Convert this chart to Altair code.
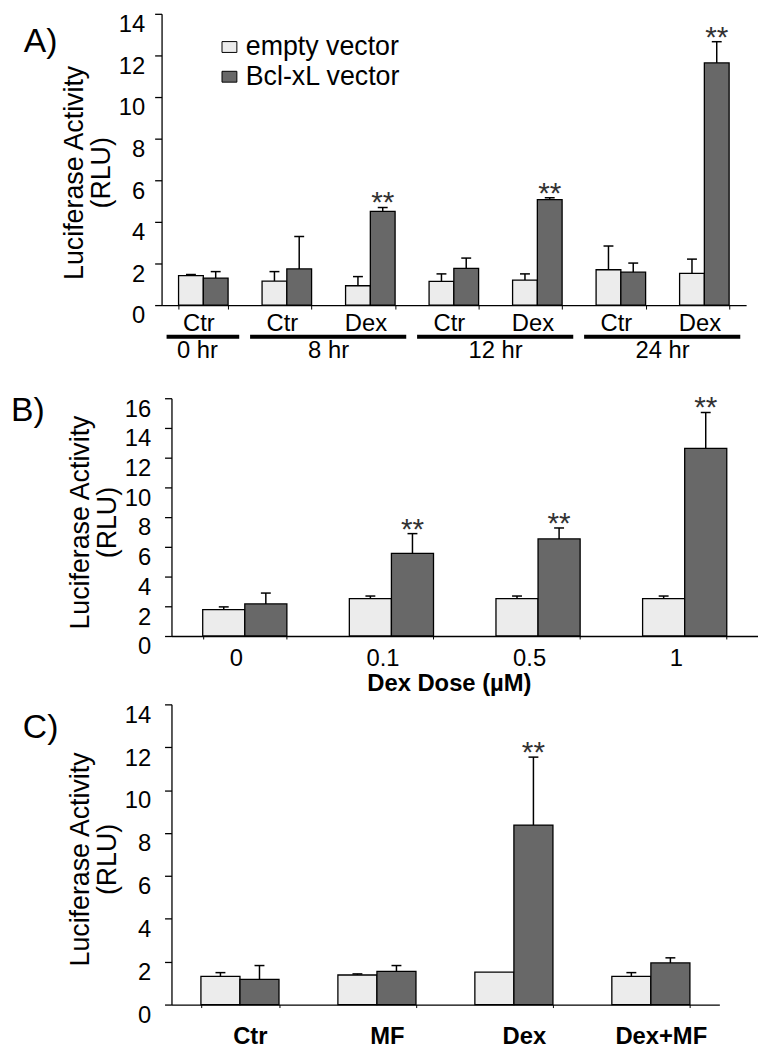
import altair as alt
import pandas as pd

FONT = "Liberation Sans"
VECTORS = ["empty vector", "Bcl-xL vector"]
BAR_COLORS = ["#ececec", "#686868"]

# ---- Panel A: time course ----
a_cats = ["0 hr|Ctr", "8 hr|Ctr", "8 hr|Dex", "12 hr|Ctr", "12 hr|Dex", "24 hr|Ctr", "24 hr|Dex"]
a_empty = [1.42, 1.15, 0.93, 1.14, 1.20, 1.70, 1.52]
a_empty_sd = [0.05, 0.46, 0.44, 0.36, 0.30, 1.14, 0.69]
a_bcl = [1.30, 1.74, 4.50, 1.77, 5.07, 1.58, 11.64]
a_bcl_sd = [0.31, 1.56, 0.19, 0.49, 0.09, 0.44, 1.02]
a_stars = ["8 hr|Dex", "12 hr|Dex", "24 hr|Dex"]
a_groups = ["0 hr", "8 hr", "12 hr", "24 hr"]
a_group_first = ["0 hr|Ctr", "8 hr|Ctr", "12 hr|Ctr", "24 hr|Ctr"]
a_group_last = ["0 hr|Ctr", "8 hr|Dex", "12 hr|Dex", "24 hr|Dex"]

# ---- Panel B: Dex dose ----
b_cats = ["0", "0.1", "0.5", "1"]
b_empty = [1.78, 2.51, 2.51, 2.51]
b_empty_sd = [0.18, 0.18, 0.18, 0.18]
b_bcl = [2.16, 5.56, 6.53, 12.62]
b_bcl_sd = [0.73, 1.33, 0.74, 2.42]
b_stars = ["0.1", "0.5", "1"]

# ---- Panel C: treatments ----
c_cats = ["Ctr", "MF", "Dex", "Dex+MF"]
c_empty = [1.32, 1.38, 1.51, 1.32]
c_empty_sd = [0.17, 0.05, 0.0, 0.17]
c_bcl = [1.18, 1.55, 8.37, 1.94]
c_bcl_sd = [0.64, 0.27, 3.17, 0.24]
c_stars = ["Dex"]

Y_TITLE = ["Luciferase Activity", "(RLU)"]
dummy = pd.DataFrame({"k": [0]})


def long_df(cats, empty, empty_sd, bcl, bcl_sd, stars):
    rows = []
    for i, c in enumerate(cats):
        rows.append(dict(cat=c, vector=VECTORS[0], value=empty[i],
                         top=empty[i] + empty_sd[i], sd=empty_sd[i], star=False))
        rows.append(dict(cat=c, vector=VECTORS[1], value=bcl[i],
                         top=bcl[i] + bcl_sd[i], sd=bcl_sd[i], star=c in stars))
    return pd.DataFrame(rows)


def y_axis(maxv, offset, label_padding, title_y, title_padding):
    return alt.Axis(values=list(range(0, maxv + 1, 2)), grid=False, offset=offset,
                    domainColor="black", domainWidth=1.3, tickColor="black", tickWidth=1.3,
                    tickSize=7, labelFont=FONT, labelFontSize=24, labelColor="black",
                    labelOffset=11, labelPadding=label_padding,
                    title=Y_TITLE, titleFont=FONT, titleFontSize=27, titleFontWeight="normal",
                    titleColor="black", titlePadding=title_padding, titleY=title_y,
                    titleLineHeight=27)


def bar_layers(df, xscale, xaxis, yscale, yaxis, legend):
    def X():
        return alt.X("cat:N", scale=xscale, axis=xaxis)

    XO = alt.XOffset("vector:N", scale=alt.Scale(domain=VECTORS, paddingInner=0))
    base = alt.Chart(df)
    bars = base.mark_bar(stroke="black", strokeWidth=1.3, opacity=1).encode(
        x=X(), xOffset=XO,
        y=alt.Y("value:Q", scale=yscale, axis=yaxis),
        color=alt.Color("vector:N", scale=alt.Scale(domain=VECTORS, range=BAR_COLORS),
                        legend=legend),
    )
    err = base.transform_filter("datum.sd > 0").mark_rule(color="black", strokeWidth=1.5).encode(
        x=X(), xOffset=XO,
        y=alt.Y("value:Q", scale=yscale, axis=yaxis), y2="top:Q")
    cap = base.transform_filter("datum.sd > 0").mark_tick(
        color="black", thickness=1.5, size=10, orient="horizontal", opacity=1).encode(
        x=X(), xOffset=XO, y=alt.Y("top:Q", scale=yscale, axis=yaxis))
    star = base.transform_filter("datum.star").mark_text(
        text="**", font=FONT, fontSize=30, baseline="alphabetic", dy=5, color="#333333").encode(
        x=X(), xOffset=XO, y=alt.Y("top:Q", scale=yscale, axis=yaxis))
    return [err, bars, cap, star]


def spacer(x, y):
    return alt.Chart(dummy).mark_rule(color="white", strokeWidth=1).encode(
        x=alt.value(x), x2=alt.value(x + 4), y=alt.value(y))


def letter(txt, x, y):
    return alt.Chart(dummy).mark_text(text=txt, font=FONT, fontSize=34, align="left",
                                      baseline="alphabetic", color="black").encode(
        x=alt.value(x), y=alt.value(y))


# ---------------- Panel A ----------------
A_W, A_H = 580, 294
xsA = alt.Scale(domain=a_cats, range=[-10, A_W], paddingInner=0.407, paddingOuter=0.2035)
xaxA = alt.Axis(title=None, labelExpr="split(datum.label, '|')[1]", labelAngle=0,
                labelFont=FONT, labelFontSize=24, labelColor="black", labelPadding=3,
                labelOffset=-5, tickBand="extent", tickSize=4, tickColor="black",
                domainColor="black", domainWidth=1.3)
ysA = alt.Scale(domain=[0, 14], nice=False)
legendA = alt.Legend(orient="none", legendX=45, legendY=20, title=None,
                     symbolType="M-1,-0.73H1V0.73H-1Z", symbolSize=225,
                     symbolStrokeColor="black", symbolStrokeWidth=1, symbolOpacity=1,
                     labelFont=FONT, labelFontSize=27, labelColor="black", labelOffset=3,
                     rowPadding=2, padding=0, labelLimit=0)
dfA = long_df(a_cats, a_empty, a_empty_sd, a_bcl, a_bcl_sd, a_stars)
layersA = bar_layers(dfA, xsA, xaxA, ysA, y_axis(14, 10, 10, 160, 3), legendA)

# group brackets below the axis use a step-wide band scale over the same range
xsG = alt.Scale(domain=a_cats, range=[-10, A_W], paddingInner=0, paddingOuter=0)
grp = pd.DataFrame({"group": a_groups, "first": a_group_first, "last": a_group_last})
grp_single = grp[grp["first"] == grp["last"]]
grp_multi = grp[grp["first"] != grp["last"]]
grp_rules = alt.Chart(grp).mark_rule(color="black", strokeWidth=4).encode(
    x=alt.X("first:N", bandPosition=0.06, scale=xsG, axis=None),
    x2=alt.X2("last:N", bandPosition=0.93),
    y=alt.value(326))
grp_lab1 = alt.Chart(grp_single).mark_text(font=FONT, fontSize=24, color="black",
                                           baseline="middle").encode(
    x=alt.X("first:N", bandPosition=0.43, scale=xsG, axis=None),
    y=alt.value(340), text="group:N")
grp_lab2 = alt.Chart(grp_multi).mark_text(font=FONT, fontSize=24, color="black",
                                          baseline="middle").encode(
    x=alt.X("last:N", bandPosition=0, scale=xsG, axis=None),
    y=alt.value(340), text="group:N")

panelA = alt.layer(
    alt.layer(*layersA, letter("A)", -149, 39), spacer(0, 360)),
    alt.layer(grp_rules, grp_lab1, grp_lab2),
).resolve_scale(x="independent").properties(width=A_W, height=A_H)

# ---------------- Panel B ----------------
B_W, B_H = 592, 240
xsB = alt.Scale(domain=b_cats, paddingInner=0.426, paddingOuter=0.213)
xaxB = alt.Axis(title="Dex Dose (µM)", titleFont=FONT, titleFontSize=24, titleFontWeight="bold",
                titleColor="black", titlePadding=1, titleX=280, labelAngle=0, labelFont=FONT,
                labelFontSize=24, labelColor="black", labelPadding=8, labelOffset=-9,
                tickBand="extent", tickSize=3, tickColor="black", domainColor="black",
                domainWidth=1.3)
ysB = alt.Scale(domain=[0, 16], nice=False)
dfB = long_df(b_cats, b_empty, b_empty_sd, b_bcl, b_bcl_sd, b_stars)
layersB = bar_layers(dfB, xsB, xaxB, ysB, y_axis(16, 0, 14, 125, 3), None)
panelB = alt.layer(*layersB, letter("B)", -162, 23), spacer(-164, -26),
                   spacer(0, 304)).properties(width=B_W, height=B_H)

# ---------------- Panel C ----------------
C_W, C_H = 553, 303
xsC = alt.Scale(domain=c_cats, paddingInner=0.43, paddingOuter=0.215)
xaxC = alt.Axis(title=None, labelAngle=0, labelFont=FONT, labelFontSize=24,
                labelFontWeight="bold", labelColor="black", labelPadding=17, labelOffset=10,
                tickBand="extent", tickSize=3, tickColor="black", domainColor="black",
                domainWidth=1.3)
ysC = alt.Scale(domain=[0, 14], nice=False)
dfC = long_df(c_cats, c_empty, c_empty_sd, c_bcl, c_bcl_sd, c_stars)
layersC = bar_layers(dfC, xsC, xaxC, ysC, y_axis(14, 0, 14, 156, 3), None)
panelC = alt.layer(*layersC, letter("C)", -150, 34), spacer(0, -3)).properties(width=C_W, height=C_H)

chart = alt.vconcat(panelA, panelB, panelC, spacing=0).resolve_scale(
    x="independent", y="independent", color="independent", xOffset="independent"
).resolve_legend(color="independent").properties(padding=0).configure_view(stroke=None)

chart.save("out.html", embed_options={"renderer": "svg", "actions": False})
